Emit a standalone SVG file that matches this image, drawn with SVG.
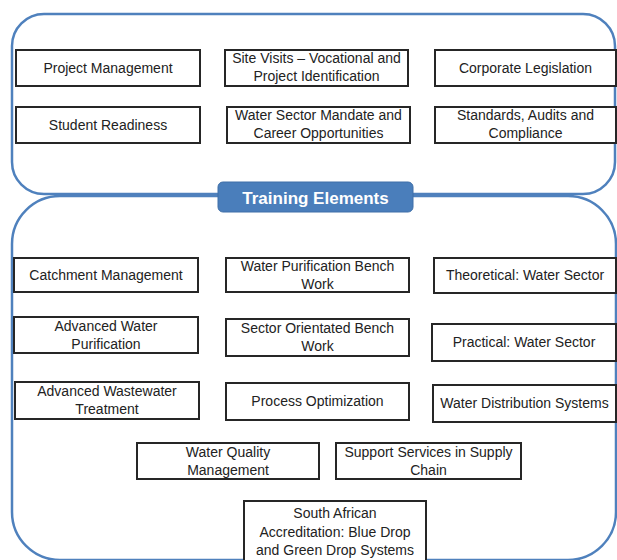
<svg xmlns="http://www.w3.org/2000/svg" width="617" height="560" viewBox="0 0 617 560">
<style>
.panel{fill:#ffffff;stroke:#4f81bd;stroke-width:2.5}
.box{fill:#ffffff;stroke:#262626;stroke-width:2}
.t{font-family:"Liberation Sans",Arial,sans-serif;font-size:14px;fill:#222222;text-anchor:middle}
.lbl{font-family:"Liberation Sans",Arial,sans-serif;font-size:17px;font-weight:bold;fill:#ffffff;text-anchor:middle}
</style>
<rect width="617" height="560" fill="#ffffff"/>
<g id="panels">
<rect id="top-panel" class="panel" x="12" y="14" width="603" height="180" rx="32"/>
<rect id="bottom-panel" class="panel" x="12" y="196" width="604" height="364" rx="48"/>
</g>
<g id="label">
<rect x="218" y="182" width="195" height="30" rx="5" fill="#4a7ebb" stroke="#3f6fa8" stroke-width="1"/>
<text class="lbl" x="315.5" y="204">Training Elements</text>
</g>
<g id="connectors"></g>
<g id="n1"><rect class="box" x="16" y="50" width="184" height="36"/><text class="t" x="108" y="72.5">Project Management</text></g>
<g id="n2"><rect class="box" x="225" y="50" width="183" height="36"/><text class="t" x="316.5" y="63">Site Visits – Vocational and</text><text class="t" x="316.5" y="81">Project Identification</text></g>
<g id="n3"><rect class="box" x="435" y="50" width="181" height="36"/><text class="t" x="525.5" y="72.5">Corporate Legislation</text></g>
<g id="n4"><rect class="box" x="16" y="107" width="184" height="36"/><text class="t" x="108" y="129.5">Student Readiness</text></g>
<g id="n5"><rect class="box" x="227" y="107" width="183" height="36"/><text class="t" x="318.5" y="120">Water Sector Mandate and</text><text class="t" x="318.5" y="138">Career Opportunities</text></g>
<g id="n6"><rect class="box" x="435" y="107" width="181" height="36"/><text class="t" x="525.5" y="120">Standards, Audits and</text><text class="t" x="525.5" y="138">Compliance</text></g>
<g id="n7"><rect class="box" x="14" y="258" width="184" height="34"/><text class="t" x="106" y="279.5">Catchment Management</text></g>
<g id="n8"><rect class="box" x="226" y="258" width="183" height="34"/><text class="t" x="317.5" y="271">Water Purification Bench</text><text class="t" x="317.5" y="289">Work</text></g>
<g id="n9"><rect class="box" x="434" y="258" width="182" height="35"/><text class="t" x="525" y="280">Theoretical: Water Sector</text></g>
<g id="n10"><rect class="box" x="14" y="317" width="184" height="36"/><text class="t" x="106" y="331">Advanced Water</text><text class="t" x="106" y="349">Purification</text></g>
<g id="n11"><rect class="box" x="226" y="319" width="183" height="37"/><text class="t" x="317.5" y="333">Sector Orientated Bench</text><text class="t" x="317.5" y="351">Work</text></g>
<g id="n12"><rect class="box" x="432" y="324" width="184" height="37"/><text class="t" x="524" y="347">Practical: Water Sector</text></g>
<g id="n13"><rect class="box" x="15" y="382" width="184" height="37"/><text class="t" x="107" y="396">Advanced Wastewater</text><text class="t" x="107" y="414">Treatment</text></g>
<g id="n14"><rect class="box" x="226" y="383" width="183" height="37"/><text class="t" x="317.5" y="406">Process Optimization</text></g>
<g id="n15"><rect class="box" x="433" y="385" width="183" height="37"/><text class="t" x="524.5" y="408">Water Distribution Systems</text></g>
<g id="n16"><rect class="box" x="137" y="443" width="182" height="36"/><text class="t" x="228" y="457">Water Quality</text><text class="t" x="228" y="475">Management</text></g>
<g id="n17"><rect class="box" x="336" y="443" width="185" height="36"/><text class="t" x="428.5" y="457">Support Services in Supply</text><text class="t" x="428.5" y="475">Chain</text></g>
<g id="n18"><rect class="box" x="244" y="501" width="182" height="70"/><text class="t" x="335" y="518">South African</text><text class="t" x="335" y="537">Accreditation: Blue Drop</text><text class="t" x="335" y="555">and Green Drop Systems</text></g>
</svg>
